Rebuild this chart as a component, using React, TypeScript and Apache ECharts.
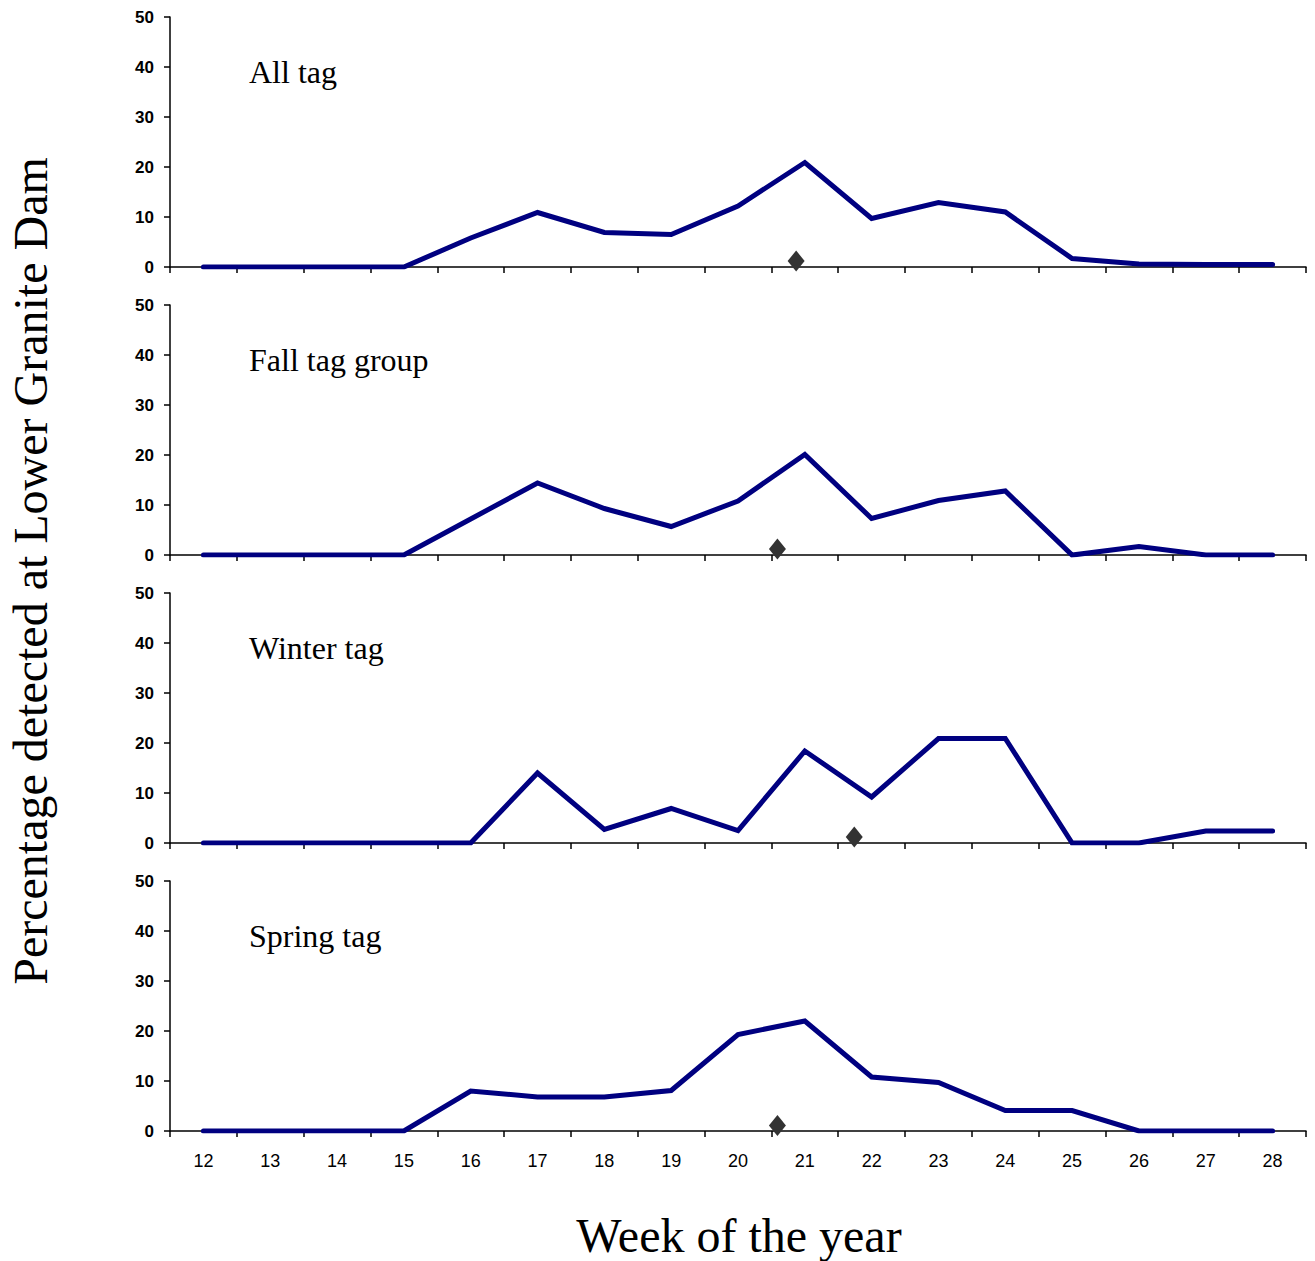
import React, { useEffect, useRef } from "react";
import * as echarts from "echarts";

const weeks = ["12","13","14","15","16","17","18","19","20","21","22","23","24","25","26","27","28"];
const yTicks = [0, 10, 20, 30, 40, 50];
const panelNames = ["All tag", "Fall tag group", "Winter tag", "Spring tag"];

const allTag = [0, 0, 0, 0, 5.8, 10.9, 6.9, 6.5, 12.2, 20.9, 9.7, 12.9, 11, 1.7, 0.6, 0.5, 0.5];
const fallTag = [0, 0, 0, 0, 7.2, 14.4, 9.3, 5.7, 10.8, 20.1, 7.3, 10.9, 12.8, 0, 1.7, 0, 0];
const winterTag = [0, 0, 0, 0, 0, 14, 2.7, 6.9, 2.5, 18.4, 9.2, 20.9, 20.9, 0, 0, 2.4, 2.4];
const springTag = [0, 0, 0, 0, 8.0, 6.8, 6.8, 8.1, 19.3, 22, 10.8, 9.7, 4.1, 4.1, 0, 0, 0];

// median passage markers: [week (fractional), percentage]
const medianWeeks = [20.87, 20.59, 21.74, 20.59];
const medianValues = [1.2, 1.2, 1.2, 1.1];

const seriesData = [allTag, fallTag, winterTag, springTag];

export default function App() {
  const ref = useRef<HTMLDivElement>(null);
  useEffect(() => {
    if (!ref.current) return;
    const chart = echarts.init(ref.current, null, { renderer: "svg" });
    const top0 = 17;
    const step = 288;
    const h = 250;
    const grids: any[] = [];
    const xAxes: any[] = [];
    const yAxes: any[] = [];
    const series: any[] = [];
    const graphics: any[] = [];
    for (let i = 0; i < 4; i++) {
      const isLast = i === 3;
      grids.push({ left: 170, right: 9, top: top0 + step * i, height: h });
      xAxes.push({
        type: "category",
        gridIndex: i,
        data: weeks,
        boundaryGap: true,
        axisLine: { onZero: false, lineStyle: { color: "#000", width: 1.5 } },
        axisTick: { show: true, interval: 0, length: 6, lineStyle: { color: "#000", width: 1.5 } },
        axisLabel: {
          show: isLast,
          interval: 0,
          margin: 21,
          fontSize: 18,
          color: "#000",
          fontFamily: "Liberation Sans, Arial, sans-serif",
        },
        splitLine: { show: false },
      });
      xAxes.push({
        type: "value",
        gridIndex: i,
        min: 11.5,
        max: 28.5,
        show: false,
        splitLine: { show: false },
      });
      yAxes.push({
        type: "value",
        gridIndex: i,
        min: yTicks[0],
        max: yTicks[yTicks.length - 1],
        interval: 10,
        axisLine: { show: true, lineStyle: { color: "#000", width: 1.5 } },
        axisTick: { show: true, length: 6, lineStyle: { color: "#000", width: 1.5 } },
        axisLabel: {
          margin: 16,
          fontSize: 17,
          fontWeight: "bold",
          color: "#000",
          fontFamily: "Liberation Sans, Arial, sans-serif",
        },
        splitLine: { show: false },
      });
      series.push({
        type: "line",
        xAxisIndex: i * 2,
        yAxisIndex: i,
        data: seriesData[i],
        showSymbol: false,
        symbol: "none",
        lineStyle: { color: "#000080", width: 5, cap: "round", join: "miter" },
        z: 3,
      });
      series.push({
        type: "scatter",
        xAxisIndex: i * 2 + 1,
        yAxisIndex: i,
        data: [[medianWeeks[i], medianValues[i]]],
        symbol: "diamond",
        symbolSize: [17, 21],
        itemStyle: { color: "#333333", opacity: 1 },
        z: 4,
      });
      graphics.push({
        type: "text",
        left: 249,
        top: 56 + step * i,
        style: {
          text: panelNames[i],
          font: '32px "Liberation Serif", "Times New Roman", serif',
          fill: "#000",
        },
      });
    }
    graphics.push({
      type: "text",
      x: 30,
      y: 571,
      rotation: Math.PI / 2,
      style: {
        text: "Percentage detected at Lower Granite Dam",
        font: '48px "Liberation Serif", "Times New Roman", serif',
        fill: "#000",
        align: "center",
        verticalAlign: "middle",
      },
    });
    graphics.push({
      type: "text",
      x: 739,
      y: 1235,
      style: {
        text: "Week of the year",
        font: '48px "Liberation Serif", "Times New Roman", serif',
        fill: "#000",
        align: "center",
        verticalAlign: "middle",
      },
    });
    chart.setOption({
      animation: false,
      backgroundColor: "#fff",
      grid: grids,
      xAxis: xAxes,
      yAxis: yAxes,
      series,
      graphic: graphics,
    });
    return () => chart.dispose();
  }, []);
  return <div ref={ref} style={{ width: 1315, height: 1261, position: "absolute", left: 0, top: 0 }} />;
}
